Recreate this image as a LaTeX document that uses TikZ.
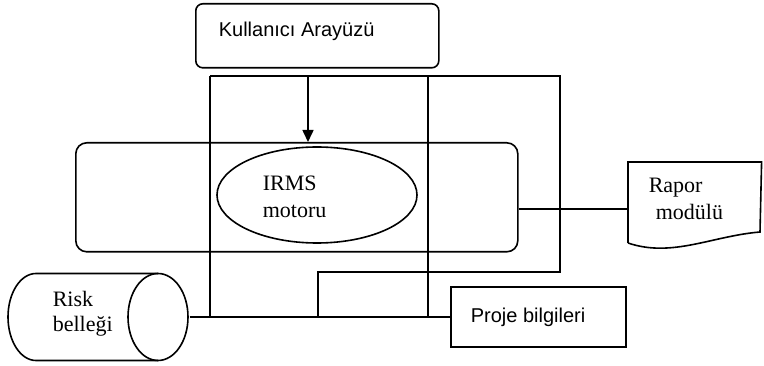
\documentclass[tikz,border=0pt]{standalone}
\usepackage{fontspec}
\setmainfont{Liberation Serif}
\newfontfamily\uisans{Liberation Sans}
\usetikzlibrary{arrows.meta,shapes.geometric}
\begin{document}
\begin{tikzpicture}[x=1pt,y=-1pt,
  every path/.style={line width=1.6pt},
  box/.style={draw,line width=1.6pt,rounded corners=7pt,inner sep=0pt,anchor=north west},
  plain/.style={inner sep=0pt,anchor=north west},
  lbl/.style={anchor=base west,inner sep=0pt},
  serifbig/.style={font=\fontsize{22}{26}\selectfont},
  sansbig/.style={font=\uisans\fontsize{20}{24}\selectfont},
  conn/.style={draw,line width=1.6pt},
  shapeline/.style={draw,line width=1.6pt},
  arr/.style={-{Triangle[length=12pt,width=11pt]}}]
\useasboundingbox (0,0) rectangle (764,366);
% user interface box
\node[box,minimum width=243pt,minimum height=64pt] (ui) at (195,3) {};
\node[lbl,sansbig] (uitxt) at (218,37) {Kullanıcı Arayüzü};
% core rounded rectangle
\node[box,rounded corners=11pt,minimum width=442pt,minimum height=109pt] (core) at (75,142) {};
% IRMS ellipse
\node[shapeline,ellipse,inner sep=0pt,minimum width=200pt,minimum height=96pt] (irms) at (317,195) {};
\node[lbl,serifbig] (irms1) at (262,191) {IRMS};
\node[lbl,serifbig] (irms2) at (262,218) {motoru};
% report module (document shape)
\node[plain,minimum width=132pt,minimum height=92pt] (rapor) at (628,162) {};
\draw[shapeline] (628,243) -- (rapor.north west) -- (rapor.north east) -- (760,232)
  .. controls (712,236) and (672,258) .. (628,243);
\node[lbl,serifbig] (rap1) at (648,193) {Rapor};
\node[lbl,serifbig] (rap2) at (655,220) {modülü};
% project info box
\node[shapeline,inner sep=0pt,minimum width=175pt,minimum height=60pt,anchor=west] (proje) at (450,317) {};
\node[lbl,sansbig] (projetxt) at (470,323) {Proje bilgileri};
% risk memory cylinder
\node[inner sep=0pt,minimum width=180pt,minimum height=87pt,anchor=west] (risk) at (8,317) {};
\draw[shapeline] (158,273.5) -- (36,273.5) arc[start angle=270,end angle=90,x radius=28,y radius=43.5]
  -- (158,360.5);
\draw[shapeline] (158,317) ellipse[x radius=30,y radius=43.5];
\node[lbl,serifbig] (risk1) at (52,307) {Risk};
\node[lbl,serifbig] (risk2) at (52,332) {belleği};
% frame lines
\coordinate (tl) at (210,76);
\coordinate (rt) at (428,76);
\coordinate (tr) at (560,76);
\coordinate (br) at (560,272);
\coordinate (bm) at (318,272);
\coordinate (mb) at (318,317);
\coordinate (lb) at (210,317);
\coordinate (rb) at (428,317);
\coordinate (ar) at (308,76);
\draw[conn] (tl) -- (tr) -- (br) -- (bm) -- (mb);
\draw[conn] (tl) -- (lb);
\draw[conn] (rt) -- (rb);
\draw[conn] (risk.east) -- (proje.west);
\draw[conn,arr] (ar) -- (ar |- core.north);
\draw[conn] (core.east |- rapor.west) -- (rapor.west);
\end{tikzpicture}
\end{document}
